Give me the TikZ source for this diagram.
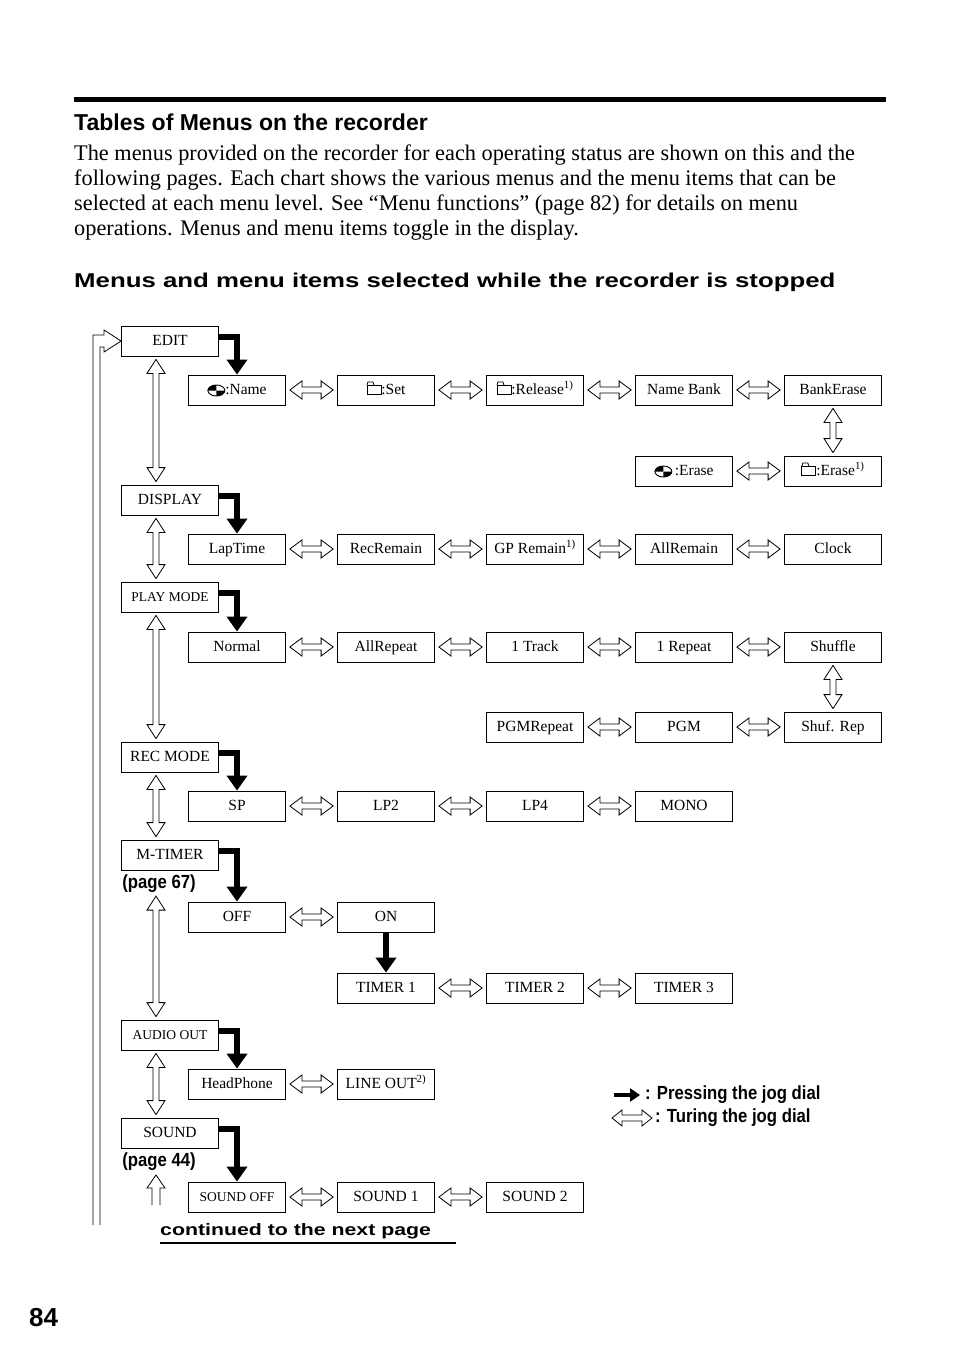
\documentclass[tikz,border=0pt]{standalone}
\usepackage{fontspec}
\setmainfont{Liberation Serif}
\setsansfont{Liberation Sans}
\newfontfamily\widesans[FakeStretch=1.29]{Liberation Sans}
\newfontfamily\narrowsans[FakeStretch=0.88]{Liberation Sans}
\usetikzlibrary{arrows.meta,calc}

% small icons used in the item boxes
\newcommand\discicon{\tikz[baseline=-3.5pt]{\draw[line width=0.9pt] (0,0) ellipse (8.5pt and 5.5pt);
  \fill (0,0) -- (-8.5pt,0) arc (180:90:8.5pt and 5.5pt) -- cycle;
  \fill (0,0) -- (8.5pt,0) arc (0:-90:8.5pt and 5.5pt) -- cycle;}}
\newcommand\foldericon{\tikz[baseline=0pt]{\draw[line width=0.8pt] (0,0) rectangle (14pt,9pt);
  \draw[line width=0.8pt] (0,9pt) -- (1pt,12pt) -- (6pt,12pt) -- (7pt,9pt);}}

% hollow double arrows between named nodes
\newcommand\turnh[2]{\draw[turn] let \p1=(#1.east), \p2=(#2.west) in
  (\x1+4,\y1) -- (\x1+16,\y1+9) -- (\x1+16,\y1+3) -- (\x2-16,\y1+3) -- (\x2-16,\y1+9)
  -- (\x2-4,\y1) -- (\x2-16,\y1-9) -- (\x2-16,\y1-3) -- (\x1+16,\y1-3) -- (\x1+16,\y1-9) -- cycle;}
\newcommand\turnv[3]{\draw[turn] let \p1=([xshift=#1]#2.south), \p2=([xshift=#1]#3.north) in
  (\x1,\y1-3) -- (\x1+9,\y1-17) -- (\x1+3,\y1-17) -- (\x1+3,\y2+17) -- (\x1+9,\y2+17)
  -- (\x1,\y2+3) -- (\x1-9,\y2+17) -- (\x1-3,\y2+17) -- (\x1-3,\y1-17) -- (\x1-9,\y1-17) -- cycle;}

\begin{document}
\begin{tikzpicture}[x=1pt,y=-1pt,
  item/.style={draw, line width=0.8pt, minimum width=97pt, minimum height=30pt, inner sep=1pt,
    text height=11pt, text depth=3pt, font=\fontsize{15.5}{16}\selectfont},
  small/.style={font=\fontsize{13.5}{14}\selectfont},
  turn/.style={line width=0.8pt, fill=white, line join=miter},
  press/.style={line width=5.5pt, line join=miter, -{Triangle[width=20pt,length=15pt]}},
  head/.style={font=\sffamily\bfseries, anchor=west, inner sep=0pt},
  body/.style={font=\fontsize{22.3}{25}\selectfont, anchor=west, inner sep=0pt},
  pageref/.style={font=\narrowsans\bfseries\fontsize{19}{20}\selectfont, inner sep=0pt}]
\useasboundingbox (0,0) rectangle (954,1357);

% heading and text
\fill (74,97) rectangle (886,101.5);
\node[head, font=\sffamily\bfseries\fontsize{23}{24}\selectfont] (title) at (74,122) {Tables of Menus on the recorder};
\node[body] (l1) at (74,155) {The menus provided on the recorder for each operating status are shown on this and the};
\node[body] (l2) at (74,180) {following pages. Each chart shows the various menus and the menu items that can be};
\node[body] (l3) at (74,205) {selected at each menu level. See “Menu functions” (page 82) for details on menu};
\node[body] (l4) at (74,230) {operations. Menus and menu items toggle in the display.};
\node[head, font=\widesans\bfseries\fontsize{20}{21}\selectfont] (sub) at (74,282) {Menus and menu items selected while the recorder is stopped};

% menus
\node[item] (edit) at (170,341) {EDIT};
\node[item] (display) at (170,500) {DISPLAY};
\node[item, small] (play) at (170,597) {PLAY MODE};
\node[item] (rec) at (170,757) {REC MODE};
\node[item] (mtimer) at (170,855) {M-TIMER};
\node[item, small] (audio) at (170,1035) {AUDIO OUT};
\node[item] (sound) at (170,1133) {SOUND};
\node[pageref] (p67) at (159,884) {(page 67)};
\node[pageref] (p44) at (159,1162) {(page 44)};

% items
\node[item] (name) at (237,390) {\discicon:Name};
\node[item] (set) at (386,390) {\foldericon:Set};
\node[item] (release) at (535,390) {\foldericon:Release\textsuperscript{1)}};
\node[item] (bank) at (684,390) {Name Bank};
\node[item] (bankerase) at (833,390) {BankErase};
\node[item] (erase) at (684,471) {\discicon\,:Erase};
\node[item] (ferase) at (833,471) {\foldericon:Erase\textsuperscript{1)}};
\node[item] (lap) at (237,549) {LapTime};
\node[item] (recremain) at (386,549) {RecRemain};
\node[item] (gpremain) at (535,549) {GP Remain\textsuperscript{1)}};
\node[item] (allremain) at (684,549) {AllRemain};
\node[item] (clock) at (833,549) {Clock};
\node[item] (normal) at (237,647) {Normal};
\node[item] (allrep) at (386,647) {AllRepeat};
\node[item] (track) at (535,647) {1 Track};
\node[item] (onerep) at (684,647) {1 Repeat};
\node[item] (shuffle) at (833,647) {Shuffle};
\node[item] (pgmrep) at (535,727) {PGMRepeat};
\node[item] (pgm) at (684,727) {PGM};
\node[item] (shufrep) at (833,727) {Shuf. Rep};
\node[item] (sp) at (237,806) {SP};
\node[item] (lp2) at (386,806) {LP2};
\node[item] (lp4) at (535,806) {LP4};
\node[item] (mono) at (684,806) {MONO};
\node[item] (off) at (237,917) {OFF};
\node[item] (on) at (386,917) {ON};
\node[item] (timer1) at (386,988) {TIMER 1};
\node[item] (timer2) at (535,988) {TIMER 2};
\node[item] (timer3) at (684,988) {TIMER 3};
\node[item] (phone) at (237,1084) {HeadPhone};
\node[item] (lineout) at (386,1084) {LINE OUT\textsuperscript{2)}};
\node[item, small] (soundoff) at (237,1197) {SOUND OFF};
\node[item] (sound1) at (386,1197) {SOUND 1};
\node[item] (sound2) at (535,1197) {SOUND 2};

% pressing the jog dial
\draw[press] ([yshift=4]edit.east) -| (name.north);
\draw[press] ([yshift=4]display.east) -| (lap.north);
\draw[press] ([yshift=4]play.east) -| (normal.north);
\draw[press] ([yshift=4]rec.east) -| (sp.north);
\draw[press] ([yshift=4]mtimer.east) -| (off.north);
\draw[press] ([yshift=4]audio.east) -| (phone.north);
\draw[press] ([yshift=4]sound.east) -| (soundoff.north);
\draw[press] (on) -- (timer1);

% turning the jog dial
\turnh{name}{set} \turnh{set}{release} \turnh{release}{bank} \turnh{bank}{bankerase}
\turnh{erase}{ferase}
\turnh{lap}{recremain} \turnh{recremain}{gpremain} \turnh{gpremain}{allremain} \turnh{allremain}{clock}
\turnh{normal}{allrep} \turnh{allrep}{track} \turnh{track}{onerep} \turnh{onerep}{shuffle}
\turnh{pgmrep}{pgm} \turnh{pgm}{shufrep}
\turnh{sp}{lp2} \turnh{lp2}{lp4} \turnh{lp4}{mono}
\turnh{off}{on}
\turnh{timer1}{timer2} \turnh{timer2}{timer3}
\turnh{phone}{lineout}
\turnh{soundoff}{sound1} \turnh{sound1}{sound2}
\turnv{0}{bankerase}{ferase}
\turnv{0}{shuffle}{shufrep}
\turnv{-14}{edit}{display}
\turnv{-14}{display}{play}
\turnv{-14}{play}{rec}
\turnv{-14}{rec}{mtimer}
\turnv{-3}{p67}{audio}
\turnv{-14}{audio}{sound}

% loop back to the first menu
\draw[turn, fill=none] (93,1225) -- (93,335) -- (104,335) -- (104,330) -- (edit.west)
  -- (104,352) -- (104,347) -- (100,347) -- (100,1225);
\draw[turn, fill=none] (152,1205) -- (152,1188) -- (147,1188) -- (156,1175) -- (165,1188) -- (160,1188) -- (160,1205);

% legend
\coordinate (la) at (614,1095);
\coordinate (lb) at (640,1095);
\coordinate (lc) at (612,1118);
\coordinate (ld) at (652,1118);
\draw[line width=4pt, -{Triangle[width=13pt,length=10pt]}] (la) -- (lb);
\node[pageref, anchor=west] (lpress) at (645,1095) {: Pressing the jog dial};
\draw[turn] let \p1=(lc), \p2=(ld) in (\x1,\y1) -- (\x1+10,\y1+8) -- (\x1+10,\y1+3) -- (\x2-10,\y1+3) -- (\x2-10,\y1+8)
  -- (\x2,\y1) -- (\x2-10,\y1-8) -- (\x2-10,\y1-3) -- (\x1+10,\y1-3) -- (\x1+10,\y1-8) -- cycle;
\node[pageref, anchor=west] (lturn) at (655,1118) {: Turing the jog dial};

% footer
\node[head, font=\widesans\bfseries\fontsize{16.5}{17}\selectfont] (cont) at (160,1231) {continued to the next page};
\draw[line width=1.5pt] (160,1243) -- (456,1243);
\node[head, font=\sffamily\bfseries\fontsize{26}{27}\selectfont] (page) at (29,1318) {84};
\end{tikzpicture}
\end{document}
